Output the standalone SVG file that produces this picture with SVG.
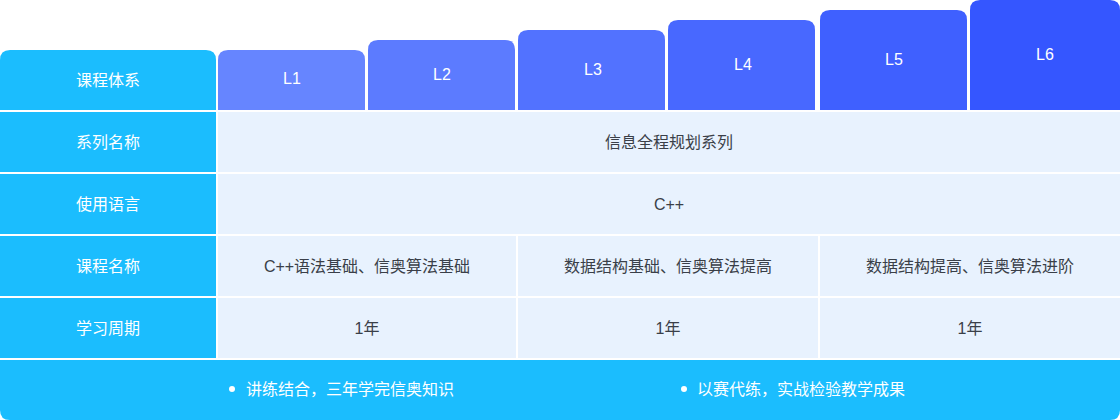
<svg xmlns="http://www.w3.org/2000/svg" width="1120" height="420" viewBox="0 0 1120 420">
<style>
.h{fill:#1BBDFE}
.c{fill:#E8F2FE}
.wt{fill:#fff;font-family:"Liberation Sans","Noto Sans CJK SC",sans-serif;font-size:16px;text-anchor:middle}
.dt{fill:#3A3F48;font-family:"Liberation Sans","Noto Sans CJK SC",sans-serif;font-size:16px;text-anchor:middle}
.ft{fill:#fff;font-family:"Liberation Sans","Noto Sans CJK SC",sans-serif;font-size:16px}
</style>
<rect width="1120" height="420" fill="#fff"/>
<g id="header">
<path class="h" d="M0 60 Q0 50 10 50 H206 Q216 50 216 60 V110 H0Z"/>
<text class="wt" x="108" y="86">课程体系</text>
</g>
<g id="L1"><path fill="#6685FF" d="M218 60 Q218 50 228 50 H355 Q365 50 365 60 V110 H218Z"/><text class="wt" x="292" y="84">L1</text></g>
<g id="L2"><path fill="#5C7BFF" d="M368 50 Q368 40 378 40 H505 Q515 40 515 50 V110 H368Z"/><text class="wt" x="442" y="80">L2</text></g>
<g id="L3"><path fill="#5272FF" d="M518 40 Q518 30 528 30 H655 Q665 30 665 40 V110 H518Z"/><text class="wt" x="593" y="75">L3</text></g>
<g id="L4"><path fill="#4868FF" d="M668 30 Q668 20 678 20 H805 Q815 20 815 30 V110 H668Z"/><text class="wt" x="743" y="70">L4</text></g>
<g id="L5"><path fill="#3F60FF" d="M820 20 Q820 10 830 10 H957 Q967 10 967 20 V110 H820Z"/><text class="wt" x="894" y="65">L5</text></g>
<g id="L6"><path fill="#3556FF" d="M970 10 Q970 0 980 0 H1110 Q1120 0 1120 10 V110 H970Z"/><text class="wt" x="1045" y="60">L6</text></g>
<g id="row-series"><rect class="h" x="0" y="112" width="216" height="60"/><text class="wt" x="108" y="148">系列名称</text>
<rect class="c" x="218" y="112" width="902" height="60"/><text class="dt" x="669" y="148">信息全程规划系列</text></g>
<g id="row-lang"><rect class="h" x="0" y="174" width="216" height="60"/><text class="wt" x="108" y="210">使用语言</text>
<rect class="c" x="218" y="174" width="902" height="60"/><text class="dt" x="669" y="210">C++</text></g>
<g id="row-course"><rect class="h" x="0" y="236" width="216" height="60"/><text class="wt" x="108" y="272">课程名称</text>
<rect class="c" x="218" y="236" width="298" height="60"/><text class="dt" x="367" y="272">C++语法基础、信奥算法基础</text>
<rect class="c" x="518" y="236" width="300" height="60"/><text class="dt" x="668" y="272">数据结构基础、信奥算法提高</text>
<rect class="c" x="820" y="236" width="300" height="60"/><text class="dt" x="970" y="272">数据结构提高、信奥算法进阶</text></g>
<g id="row-period"><rect class="h" x="0" y="298" width="216" height="60"/><text class="wt" x="108" y="334">学习周期</text>
<rect class="c" x="218" y="298" width="298" height="60"/><text class="dt" x="367" y="334">1年</text>
<rect class="c" x="518" y="298" width="300" height="60"/><text class="dt" x="668" y="334">1年</text>
<rect class="c" x="820" y="298" width="300" height="60"/><text class="dt" x="970" y="334">1年</text></g>
<g id="footer"><path class="h" d="M0 360 H1120 V410 Q1120 420 1110 420 H10 Q0 420 0 410Z"/>
<circle cx="232" cy="389" r="3" fill="#fff"/><text class="ft" x="246" y="395">讲练结合，三年学完信奥知识</text>
<circle cx="684" cy="389" r="3" fill="#fff"/><text class="ft" x="697" y="395">以赛代练，实战检验教学成果</text></g>
</svg>
